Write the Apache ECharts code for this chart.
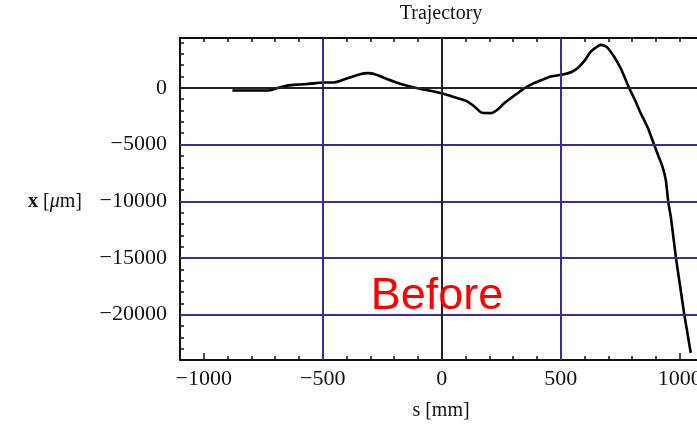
<!DOCTYPE html>
<html>
<head>
<meta charset="utf-8">
<script src="https://cdn.jsdelivr.net/npm/echarts@6/dist/echarts.min.js"></script>
<style>
  html, body { margin: 0; padding: 0; background: #fff; }
  #chart { width: 697px; height: 425px; }
</style>
</head>
<body>
<div id="chart"></div>
<script>
  // trajectory, s [mm] vs x [um]
  var sValues = [-880, -800, -740, -720, -690, -650, -600, -560, -500, -452, -396, -340, -310, -284, -228, -172, -102, -32, 24, 66,
    108, 140, 170, 206, 235, 262, 290, 318, 350, 387, 420, 458, 513, 545, 570, 600, 626, 650, 668, 685,
    700, 724, 750, 773, 787, 810, 836, 865, 892, 910, 927, 941, 952, 962, 983, 1000, 1018, 1035, 1046]
  var xValues = [-230, -230, -235, -200, -20, 200, 300, 350, 470, 480, 855, 1233, 1300, 1233, 767, 352, -26, -322, -617, -912,
    -1205, -1700, -2200, -2230, -1900, -1350, -900, -470, 0, 414, 700, 997, 1204, 1400, 1733, 2400, 3200, 3600, 3790, 3700,
    3450, 2750, 1800, 705, 0, -1000, -2230, -3500, -5000, -6000, -6934, -8106, -10132, -11340, -14860, -17300, -19850, -22000, -23370]

  var xMajor = [-1000, -500, 0, 500, 1000]
  var yMajor = [-20000, -15000, -10000, -5000, 0]
  var blueX = [-500, 500]
  var blueY = [-5000, -10000, -15000, -20000]

  var serif = 'Liberation Serif'
  var ink = '#111'
  var blue = '#3b2c98'

  function fmt (v) {
    return v < 0 ? '\u2212' + Math.abs(v) : String(v)
  }

  var points = sValues.map(function (s, i) { return [s, xValues[i]] })

  var refLines = []
  blueX.forEach(function (v) {
    refLines.push({xAxis: v, lineStyle: {color: blue, width: 2, type: 'solid'}})
  })
  blueY.forEach(function (v) {
    refLines.push({yAxis: v, lineStyle: {color: blue, width: 2, type: 'solid'}})
  })
  refLines.push({xAxis: 0, lineStyle: {color: '#222', width: 2, type: 'solid'}})
  refLines.push({yAxis: 0, lineStyle: {color: '#222', width: 2, type: 'solid'}})

  var chart = echarts.init(document.getElementById('chart'))
  chart.setOption({
    animation: false,
    grid: {left: 180, right: -6.6, top: 38, bottom: 65, containLabel: false, outerBoundsMode: 'none'},
    xAxis: [
      {
        type: 'value', min: -1100, max: 1100, interval: 100, position: 'bottom',
        axisLine: {show: true, onZero: false, lineStyle: {color: ink, width: 2}},
        axisTick: {show: true, inside: true, length: 4, lineStyle: {color: ink, width: 1.5}},
        axisLabel: {
          margin: 8, color: ink, fontFamily: serif, fontSize: 22,
          formatter: function (v) { return v % 500 === 0 ? fmt(v) : '' }
        },
        splitLine: {show: false}
      },
      {
        type: 'value', min: -1100, max: 1100, position: 'bottom',
        axisLine: {show: false, onZero: false},
        axisTick: {show: true, inside: true, length: 7, customValues: xMajor, lineStyle: {color: ink, width: 1.5}},
        axisLabel: {show: false},
        splitLine: {show: false}
      },
      {
        type: 'value', min: -1100, max: 1100, interval: 100, position: 'top',
        axisLine: {show: true, onZero: false, lineStyle: {color: ink, width: 2}},
        axisTick: {show: true, inside: true, length: 4, lineStyle: {color: ink, width: 1.5}},
        axisLabel: {show: false},
        splitLine: {show: false}
      }
    ],
    yAxis: [
      {
        type: 'value', min: -24000, max: 4400, interval: 1000, position: 'left',
        axisLine: {show: true, onZero: false, lineStyle: {color: ink, width: 2}},
        axisTick: {show: true, inside: true, length: 4, lineStyle: {color: ink, width: 1.5}},
        axisLabel: {
          margin: 13, color: ink, fontFamily: serif, fontSize: 22,
          formatter: function (v) { return v % 5000 === 0 ? fmt(v) : '' }
        },
        splitLine: {show: false}
      },
      {
        type: 'value', min: -24000, max: 4400, position: 'left',
        axisLine: {show: false, onZero: false},
        axisTick: {show: true, inside: true, length: 7, customValues: yMajor, lineStyle: {color: ink, width: 1.5}},
        axisLabel: {show: false},
        splitLine: {show: false}
      }
    ],
    series: [
      {
        // grid lines
        type: 'line', data: [], z: 1, silent: true,
        markLine: {silent: true, symbol: ['none', 'none'], label: {show: false}, data: refLines}
      },
      {
        name: 'Trajectory', type: 'line', z: 3, data: points,
        showSymbol: false, smooth: 0.25,
        lineStyle: {color: '#000', width: 2.6}
      }
    ],
    graphic: [
      {
        type: 'text', x: 441, y: 14, z: 10,
        style: {text: 'Trajectory', font: '20px "Liberation Serif"', fill: ink, align: 'center', verticalAlign: 'middle'}
      },
      {
        type: 'text', x: 441, y: 411, z: 10,
        style: {text: 's [mm]', font: '20px "Liberation Serif"', fill: ink, align: 'center', verticalAlign: 'middle'}
      },
      {
        type: 'text', x: 82, y: 202, z: 10,
        style: {
          text: '{b|x} [{i|\u03bc}m]', align: 'right', verticalAlign: 'middle', fill: ink,
          font: '20px "Liberation Serif"',
          rich: {
            b: {fontFamily: serif, fontSize: 20, fontWeight: 'bold', fill: ink},
            i: {fontFamily: serif, fontSize: 20, fontStyle: 'italic', fill: ink}
          }
        }
      },
      {
        type: 'text', x: 437, y: 297, z: 10,
        style: {text: 'Before', font: '45px "Liberation Sans"', fill: '#ff0000', align: 'center', verticalAlign: 'middle'}
      }
    ]
  })
</script>
</body>
</html>
